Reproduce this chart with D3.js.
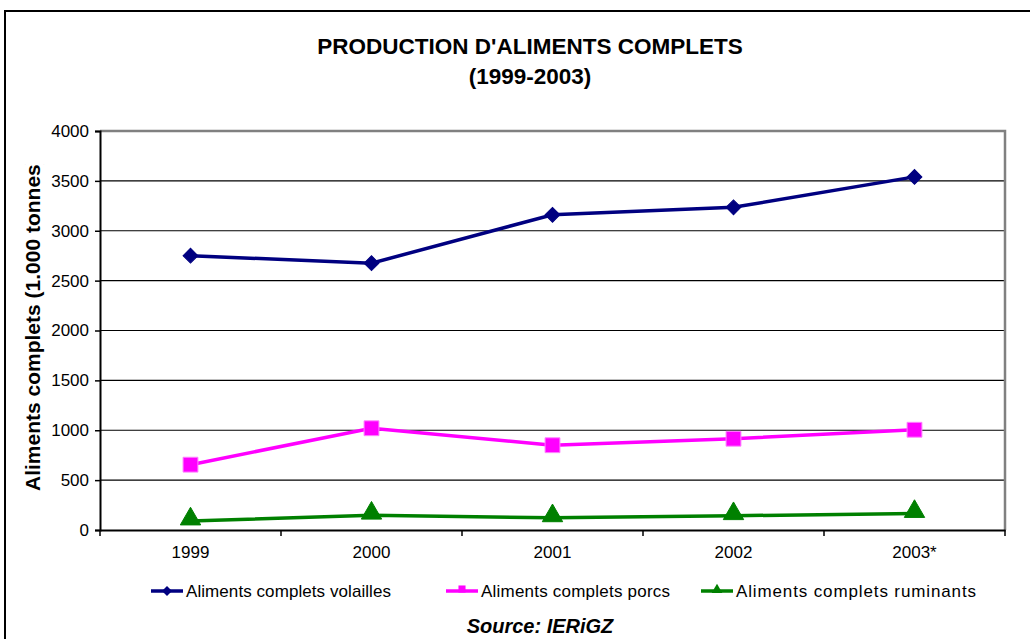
<html>
<head>
<style>
  body { margin: 0; background: #fff; }
  svg { font-family: "Liberation Sans", Arial, sans-serif; }
</style>
</head>
<body>
<svg id="chart" width="1030" height="639"></svg>
<script src="https://d3js.org/d3.v7.min.js"></script>
<script>
// data
var years = ['1999', '2000', '2001', '2002', '2003*'];
var volailles = [2750, 2675, 3160, 3235, 3540];
var porcs = [655, 1020, 850, 915, 1005];
var ruminants = [90, 148, 122, 143, 165];
var yTicks = [0, 500, 1000, 1500, 2000, 2500, 3000, 3500, 4000];
var seriesNames = ['Aliments complets volailles', 'Aliments complets porcs', 'Aliments complets ruminants'];
var seriesColors = ['#000080', '#ff00ff', '#008000'];
var seriesShapes = [d3.symbolSquare, d3.symbolSquare, d3.symbolTriangle];
var seriesRotate = [45, 0, 0];

var svg = d3.select('#chart');
var plotLeft = 100, plotRight = 1005, plotTop = 131, plotBottom = 530;
var fontFam = '"Liberation Sans", Arial, sans-serif';

// outer frame
svg.append('rect')
  .attr('x', 5).attr('y', 11)
  .attr('width', 1040).attr('height', 650)
  .attr('fill', 'none').attr('stroke', '#000').attr('stroke-width', 2);

// title
svg.append('text').attr('x', 530).attr('y', 54).attr('text-anchor', 'middle')
  .attr('font-size', 22.5).attr('font-weight', 'bold').text("PRODUCTION D'ALIMENTS COMPLETS");
svg.append('text').attr('x', 530).attr('y', 84).attr('text-anchor', 'middle')
  .attr('font-size', 22.5).attr('font-weight', 'bold').text('(1999-2003)');

var x = d3.scaleBand().domain(years).range([plotLeft, plotRight]);
var y = d3.scaleLinear().domain([0, 4000]).range([plotBottom, plotTop]);

// gridlines
svg.append('g').selectAll('line').data(yTicks.slice(1, -1)).enter().append('line')
  .attr('x1', plotLeft).attr('x2', plotRight)
  .attr('y1', function(d) { return y(d); }).attr('y2', function(d) { return y(d); })
  .attr('stroke', '#000').attr('stroke-width', 1.2);

// plot border top/right (gray)
svg.append('path')
  .attr('d', 'M' + plotLeft + ',' + plotTop + 'H' + plotRight + 'V' + plotBottom)
  .attr('fill', 'none').attr('stroke', '#808080').attr('stroke-width', 2.5);

// y axis
var yAxis = svg.append('g').attr('transform', 'translate(' + plotLeft + ',0)')
  .call(d3.axisLeft(y).tickValues(yTicks).tickFormat(d3.format('d')).tickSize(5).tickPadding(6));
yAxis.select('.domain').attr('stroke', '#000').attr('stroke-width', 2);
yAxis.selectAll('.tick line').attr('stroke', '#000').attr('stroke-width', 1.5);
yAxis.selectAll('.tick text').attr('font-size', 17).attr('fill', '#000')
  .attr('font-family', fontFam);

// x axis: ticks between categories
var xAxis = svg.append('g').attr('transform', 'translate(0,' + plotBottom + ')')
  .call(d3.axisBottom(x).tickSize(0).tickPadding(16));
xAxis.select('.domain').attr('stroke', '#000').attr('stroke-width', 2);
xAxis.selectAll('.tick text').attr('font-size', 17).attr('fill', '#000')
  .attr('font-family', fontFam);
var bounds = years.map(function(d) { return x(d); }).concat([plotRight]);
svg.append('g').selectAll('line').data(bounds).enter().append('line')
  .attr('x1', function(d) { return d; }).attr('x2', function(d) { return d; })
  .attr('y1', plotBottom).attr('y2', plotBottom + 6)
  .attr('stroke', '#000').attr('stroke-width', 1.5);

// y axis title, cut at the top like the original
svg.append('clipPath').attr('id', 'ytclip')
  .append('rect').attr('x', 0).attr('y', 164).attr('width', 80).attr('height', 400);
svg.append('g').attr('clip-path', 'url(#ytclip)')
  .append('text')
  .attr('transform', 'translate(40,491) rotate(-90)')
  .attr('text-anchor', 'start').attr('font-size', 21).attr('font-weight', 'bold')
  .text('Aliments complets (1.000 tonnes)');

// series
var allSeries = [volailles, porcs, ruminants];
var line = d3.line()
  .x(function(d, i) { return x(years[i]) + x.bandwidth() / 2; })
  .y(function(d) { return y(d); });

allSeries.forEach(function(values, s) {
  svg.append('path').datum(values)
    .attr('d', line).attr('fill', 'none')
    .attr('stroke', seriesColors[s]).attr('stroke-width', 3.5);
  var sym = d3.symbol().type(seriesShapes[s]).size(s === 0 ? 110 : (s === 1 ? 220 : 180));
  svg.append('g').selectAll('path').data(values).enter().append('path')
    .attr('d', sym)
    .attr('transform', function(d, i) {
      return 'translate(' + (x(years[i]) + x.bandwidth() / 2) + ',' + (y(d) - (s === 2 ? 2 : 0)) + ') rotate(' + seriesRotate[s] + ')';
    })
    .attr('fill', seriesColors[s])
    .attr('stroke', s === 1 ? '#ff80ff' : seriesColors[s]).attr('stroke-width', 1);
});

// legend
var legendX = [151, 446, 701];
var legendLen = [205, 189, 240];
seriesNames.forEach(function(name, s) {
  var g = svg.append('g').attr('transform', 'translate(' + legendX[s] + ',591)');
  g.append('line').attr('x1', 0).attr('x2', 32).attr('y1', 0).attr('y2', 0)
    .attr('stroke', seriesColors[s]).attr('stroke-width', 3.5);
  g.append('path').attr('d', d3.symbol().type(seriesShapes[s]).size(50))
    .attr('transform', 'translate(16,' + (s === 2 ? -1 : (s === 1 ? -2 : 0)) + ') rotate(' + seriesRotate[s] + ')')
    .attr('fill', seriesColors[s]);
  g.append('text').attr('x', 35).attr('y', 6).attr('font-size', 17)
    .attr('textLength', legendLen[s]).attr('lengthAdjust', 'spacing')
    .text(name);
});

// source
svg.append('text').attr('x', 540).attr('y', 633).attr('text-anchor', 'middle')
  .attr('font-size', 20).attr('font-weight', 'bold').attr('font-style', 'italic')
  .text('Source: IERiGZ');
</script>
</body>
</html>
